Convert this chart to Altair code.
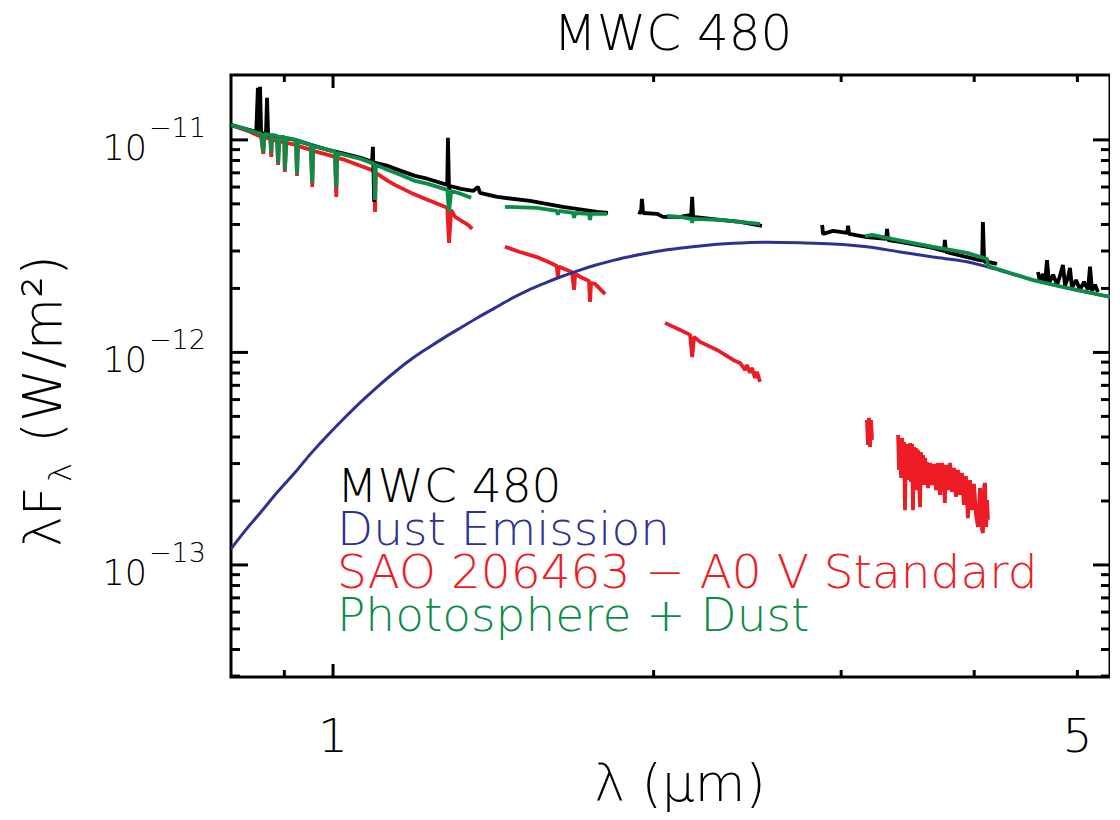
import altair as alt
import pandas as pd

# ---------------- data (wavelength in micron, flux in 1e-12 W/m^2) ----------------
# MWC 480 observed spectrum (black), four segments
mwc1_lam = [0.802, 0.827, 0.847, 0.850, 0.852, 0.854, 0.856, 0.865, 0.867, 0.869, 0.888, 0.921, 0.953,
            0.989, 1.026, 1.062, 1.088, 1.090, 1.093, 1.095, 1.126, 1.158, 1.194, 1.228, 1.280, 1.282,
            1.285, 1.288, 1.319, 1.354, 1.368, 1.374, 1.426, 1.531, 1.644, 1.770, 1.812]
mwc1_flux = [11.76, 11.27, 10.91, 17.57, 10.91, 17.76, 10.79, 10.67, 15.77, 10.56, 10.33, 10.0, 9.47,
             8.97, 8.59, 8.23, 7.88, 9.27, 5.11, 7.80, 7.54, 7.15, 6.77, 6.55, 6.14, 10.22,
             5.82, 6.07, 5.88, 5.75, 6.01, 5.63, 5.39, 5.16, 4.84, 4.58, 4.53]
mwc2_lam = [1.934, 1.946, 1.950, 1.955, 2.015, 2.041, 2.118, 2.169, 2.174, 2.178, 2.309, 2.411, 2.528]
mwc2_flux = [4.58, 4.53, 5.28, 4.53, 4.49, 4.34, 4.34, 4.44, 5.39, 4.34, 4.20, 4.11, 3.94]
mwc3_lam = [2.879, 2.885, 2.948, 3.039, 3.045, 3.052, 3.172, 3.306, 3.313, 3.321, 3.407, 3.659, 3.747,
            3.754, 3.763, 3.938, 4.069, 4.076, 4.087, 4.121, 4.202]
mwc3_flux = [3.98, 3.61, 3.73, 3.65, 3.94, 3.61, 3.49, 3.42, 3.81, 3.38, 3.31, 3.10, 3.00,
             3.38, 2.97, 2.81, 2.70, 4.11, 2.67, 2.67, 2.61]
mwc4_lam = [4.592, 4.611, 4.642, 4.661, 4.682, 4.702, 4.744, 4.785, 4.815, 4.846, 4.868, 4.898, 4.920,
            4.942, 4.985, 5.028, 5.072, 5.116, 5.138, 5.161, 5.194, 5.227]
mwc4_flux = [2.39, 2.15, 2.34, 2.12, 2.72, 2.12, 2.32, 2.08, 2.29, 2.58, 2.06, 2.24, 2.50,
             2.01, 2.19, 1.97, 2.15, 1.97, 2.53, 1.947, 2.08, 1.926]

# SAO 206463 A0 V standard (red)
sao1_lam = [0.802, 0.832, 0.856, 0.860, 0.862, 0.873, 0.875, 0.876, 0.886, 0.888, 0.890, 0.900, 0.901,
            0.904, 0.923, 0.925, 0.927, 0.953, 0.956, 0.958, 0.989, 1.004, 1.007, 1.009, 1.026, 1.062,
            1.093, 1.095, 1.097, 1.126, 1.143, 1.184, 1.228, 1.280, 1.285, 1.291, 1.302, 1.339, 1.351]
sao1_flux = [11.76, 11.03, 10.33, 8.59, 10.33, 10.11, 8.32, 10.0, 9.89, 7.63, 9.79, 9.79, 7.07,
             9.68, 9.47, 6.77, 9.37, 8.97, 6.01, 8.88, 8.50, 8.32, 5.39, 8.23, 8.05, 7.54,
             7.15, 4.58, 6.99, 6.41, 6.14, 5.63, 5.22, 4.79, 3.28, 4.68, 4.34, 3.98, 3.81]
sao2_lam = [1.450, 1.498, 1.554, 1.599, 1.622, 1.626, 1.630, 1.676, 1.684, 1.688, 1.706, 1.739, 1.743,
            1.747, 1.762, 1.801]
sao2_flux = [3.14, 2.97, 2.81, 2.64, 2.55, 2.27, 2.53, 2.39, 1.97, 2.34, 2.27, 2.17, 1.73,
             2.12, 2.10, 1.88]
sao3_lam = [2.050, 2.118, 2.164, 2.174, 2.183, 2.211, 2.294, 2.375, 2.411, 2.437, 2.447, 2.463, 2.474,
            2.490, 2.501, 2.517]
sao3_flux = [1.377, 1.276, 1.209, 0.952, 1.183, 1.121, 1.027, 0.922, 0.892, 0.827, 0.873, 0.801, 0.846,
             0.759, 0.810, 0.727]
sao4_lam = [3.172, 3.179, 3.186, 3.193, 3.200, 3.207]
sao4_flux = [0.481, 0.367, 0.492, 0.359, 0.481, 0.388]
sao5_lam = [3.393, 3.400, 3.407, 3.415, 3.422, 3.430, 3.437, 3.444, 3.452, 3.459, 3.467, 3.474, 3.482,
            3.489, 3.497, 3.504, 3.512, 3.520, 3.527, 3.535, 3.542, 3.550, 3.558, 3.565, 3.573, 3.581,
            3.589, 3.597, 3.604, 3.612, 3.620, 3.636, 3.651, 3.667, 3.683, 3.699, 3.715, 3.731, 3.747,
            3.754, 3.763, 3.779, 3.796, 3.812, 3.829, 3.845, 3.862, 3.879, 3.895, 3.912, 3.929, 3.946,
            3.964, 3.981, 3.998, 4.016, 4.033, 4.051, 4.069, 4.076, 4.087, 4.095, 4.104, 4.113, 4.121]
sao5_flux = [0.409, 0.280, 0.388, 0.257, 0.396, 0.280, 0.379, 0.181, 0.371, 0.251, 0.367, 0.265, 0.375,
             0.246, 0.371, 0.181, 0.359, 0.2378, 0.355, 0.225, 0.348, 0.251, 0.187, 0.340, 0.257, 0.329,
             0.2378, 0.319, 0.251, 0.305, 0.230, 0.302, 0.2378, 0.299, 0.225, 0.302, 0.2135, 0.302, 0.230,
             0.196, 0.296, 0.225, 0.302, 0.221, 0.286, 0.209, 0.280, 0.2135, 0.271, 0.1916, 0.262, 0.166,
             0.251, 0.181, 0.2405, 0.172, 0.151, 0.230, 0.146, 0.1414, 0.2353, 0.243, 0.151, 0.202, 0.163]

# Dust emission model (blue)
dust_lam = [0.802, 0.827, 0.856, 0.888, 0.921, 0.953, 0.989, 1.026, 1.062, 1.102, 1.143, 1.184, 1.228,
            1.274, 1.319, 1.368, 1.419, 1.470, 1.524, 1.581, 1.637, 1.697, 1.762, 1.822, 1.892, 2.059,
            2.211, 2.375, 2.556, 2.745, 2.948, 3.172, 3.407, 3.659, 3.938, 4.113, 4.543, 4.889, 5.365]
dust_flux = [0.119, 0.145, 0.178, 0.222, 0.272, 0.334, 0.409, 0.494, 0.585, 0.693, 0.809, 0.928, 1.05,
             1.18, 1.31, 1.46, 1.62, 1.79, 1.96, 2.12, 2.27, 2.42, 2.57, 2.69, 2.81, 3.04,
             3.17, 3.26, 3.30, 3.28, 3.24, 3.14, 2.97, 2.81, 2.67, 2.53, 2.19, 2.01, 1.825]

# Photosphere + dust (green)
phd1_lam = [0.802, 0.832, 0.856, 0.860, 0.862, 0.873, 0.875, 0.876, 0.886, 0.888, 0.890, 0.900, 0.901,
            0.904, 0.923, 0.925, 0.927, 0.953, 0.956, 0.958, 0.989, 1.004, 1.007, 1.009, 1.026, 1.062,
            1.093, 1.095, 1.097, 1.126, 1.158, 1.194, 1.228, 1.280, 1.285, 1.291, 1.319, 1.348]
phd1_flux = [11.76, 11.15, 10.67, 8.78, 10.67, 10.56, 8.68, 10.56, 10.44, 7.80, 10.33, 10.33, 7.22,
             10.22, 10.0, 6.92, 9.89, 9.47, 6.28, 9.37, 8.97, 8.78, 5.94, 8.68, 8.50, 8.14,
             7.71, 5.22, 7.63, 7.22, 6.84, 6.41, 6.21, 5.82, 4.58, 5.75, 5.57, 5.34]
phd2_lam = [1.450, 1.554, 1.622, 1.626, 1.630, 1.680, 1.684, 1.688, 1.739, 1.743, 1.747, 1.808]
phd2_flux = [4.84, 4.79, 4.63, 4.44, 4.63, 4.53, 4.30, 4.53, 4.49, 4.20, 4.49, 4.49]
phd3_lam = [2.059, 2.118, 2.169, 2.174, 2.178, 2.309, 2.411, 2.517]
phd3_flux = [4.39, 4.34, 4.25, 4.07, 4.25, 4.20, 4.11, 4.03]
phd4_lam = [3.159, 3.207, 3.393, 3.659, 3.938, 4.113, 4.121, 4.543, 4.889, 5.365]
phd4_flux = [3.53, 3.57, 3.38, 3.14, 2.94, 2.75, 2.55, 2.19, 2.01, 1.825]

# axis ticks / labels
x_major_ticks = [1.0]
x_minor_ticks = [0.9, 2.0, 3.0, 4.0, 5.0]
x_tick_labels = [1.0, 5.0]
x_tick_texts = ["1", "5"]
y_major_ticks = [1e-11, 1e-12, 1e-13]
y_label_exps = ["\u221211", "\u221212", "\u221213"]
y_minor_ticks = [3e-14, 4e-14, 5e-14, 6e-14, 7e-14, 8e-14, 9e-14,
                 2e-13, 3e-13, 4e-13, 5e-13, 6e-13, 7e-13, 8e-13, 9e-13,
                 2e-12, 3e-12, 4e-12, 5e-12, 6e-12, 7e-12, 8e-12, 9e-12]

legend_labels = ["MWC 480", "Dust Emission", "SAO 206463 \u2212 A0 V Standard", "Photosphere + Dust"]
legend_colors = ["#000000", "#2E3192", "#ED1C24", "#0B8C47"]

# ---------------- chart ----------------
W, H = 879, 602
FONT = "DejaVu Sans"
FW = 200
xscale = alt.Scale(type="log", domain=[0.802, 5.365], nice=False)
yscale = alt.Scale(type="log", domain=[2.97e-14, 2.02e-11], nice=False)
one_row = pd.DataFrame({"k": [0]})


def frame(segments):
    parts = []
    for i, (lam, flux) in enumerate(segments):
        parts.append(pd.DataFrame({"lam": lam, "flux": [f * 1e-12 for f in flux],
                                   "seg": i, "order": range(len(lam))}))
    return pd.concat(parts, ignore_index=True)


def spectrum(df, color, width=3.8, interp="linear"):
    return alt.Chart(df).mark_line(color=color, strokeWidth=width, strokeJoin="bevel", clip=True,
                                   interpolate=interp).encode(
        x=alt.X("lam:Q", scale=xscale, axis=None),
        y=alt.Y("flux:Q", scale=yscale, axis=None),
        detail="seg:N",
        order="order:Q",
    )


red = spectrum(frame([(sao1_lam, sao1_flux), (sao2_lam, sao2_flux), (sao3_lam, sao3_flux),
                      (sao4_lam, sao4_flux), (sao5_lam, sao5_flux)]), legend_colors[2])
black = spectrum(frame([(mwc1_lam, mwc1_flux), (mwc2_lam, mwc2_flux), (mwc3_lam, mwc3_flux),
                        (mwc4_lam, mwc4_flux)]), legend_colors[0])
blue = spectrum(frame([(dust_lam, dust_flux)]), legend_colors[1], 3.0, "monotone")
green = spectrum(frame([(phd1_lam, phd1_flux), (phd2_lam, phd2_flux), (phd3_lam, phd3_flux),
                        (phd4_lam, phd4_flux)]), legend_colors[3])


def xticks(vals, length):
    d = pd.DataFrame({"v": vals})
    bottom = alt.Chart(d).mark_rule(color="black", strokeWidth=3).encode(
        x=alt.X("v:Q", scale=xscale, axis=None), y=alt.value(H), y2=alt.value(H - length))
    top = alt.Chart(d).mark_rule(color="black", strokeWidth=3).encode(
        x=alt.X("v:Q", scale=xscale, axis=None), y=alt.value(0), y2=alt.value(length))
    return [bottom, top]


def yticks(vals, length):
    d = pd.DataFrame({"v": vals})
    left = alt.Chart(d).mark_rule(color="black", strokeWidth=3).encode(
        y=alt.Y("v:Q", scale=yscale, axis=None), x=alt.value(0), x2=alt.value(length))
    right = alt.Chart(d).mark_rule(color="black", strokeWidth=3).encode(
        y=alt.Y("v:Q", scale=yscale, axis=None), x=alt.value(W), x2=alt.value(W - length))
    return [left, right]


ticks = xticks(x_major_ticks, 13) + xticks(x_minor_ticks, 7) + yticks(y_major_ticks, 17) + yticks(y_minor_ticks, 9)

ylab_df = pd.DataFrame({"v": y_major_ticks, "exp": y_label_exps})
ylab_base = alt.Chart(ylab_df).mark_text(text="10", font=FONT, fontWeight=FW, fontSize=35, align="right",
                                         baseline="alphabetic", dy=20, color="black").encode(
    y=alt.Y("v:Q", scale=yscale, axis=None), x=alt.value(-84))
ylab_exp = alt.Chart(ylab_df).mark_text(font=FONT, fontWeight=FW, fontSize=27, align="left",
                                        baseline="alphabetic", dy=-3, color="black").encode(
    y=alt.Y("v:Q", scale=yscale, axis=None), x=alt.value(-82), text="exp:N")

xlab_df = pd.DataFrame({"v": x_tick_labels, "t": x_tick_texts})
xlab = alt.Chart(xlab_df).mark_text(font=FONT, fontWeight=FW, fontSize=47, align="center",
                                    baseline="alphabetic", color="black").encode(
    x=alt.X("v:Q", scale=xscale, axis=None), y=alt.value(H + 75), text="t:N")


def label(txt, x, y, size, color="black", align="left", angle=0, dx=0, dy=0):
    kw = dict(text=txt, font=FONT, fontWeight=FW, fontSize=size, align=align, baseline="alphabetic",
              color=color, dx=dx, dy=dy)
    if angle:
        kw["angle"] = angle
    return alt.Chart(one_row).mark_text(**kw).encode(x=alt.value(x), y=alt.value(y))


annotations = [
    label("\u03bb (\u03bcm)", 449, H + 124, 52, align="center"),   # x title
    label("MWC 480", 442, -25, 50, align="center"),                 # chart title
    # y title, rotated, with subscript lambda
    label("\u03bbF", -170, 472, 52, angle=270),
    label("\u03bb", -170, 472, 32, angle=270, dx=65, dy=10),
    label("(W/m\u00b2)", -170, 472, 54, angle=270, dx=104),
]
for i, (lab, col) in enumerate(zip(legend_labels, legend_colors)):
    annotations.append(label(lab, 106, 427 + 43 * i, 47, color=col))

chart = alt.layer(red, black, blue, green, *ticks, ylab_base, ylab_exp, xlab, *annotations).properties(
    width=W, height=H,
    autosize=alt.AutoSizeParams(type="none"),
    padding={"left": 223, "top": 67, "right": 0, "bottom": 135},
).configure(background="white").configure_view(stroke="black", strokeWidth=3)

chart.save("out.html", embed_options={"renderer": "svg", "actions": False})
